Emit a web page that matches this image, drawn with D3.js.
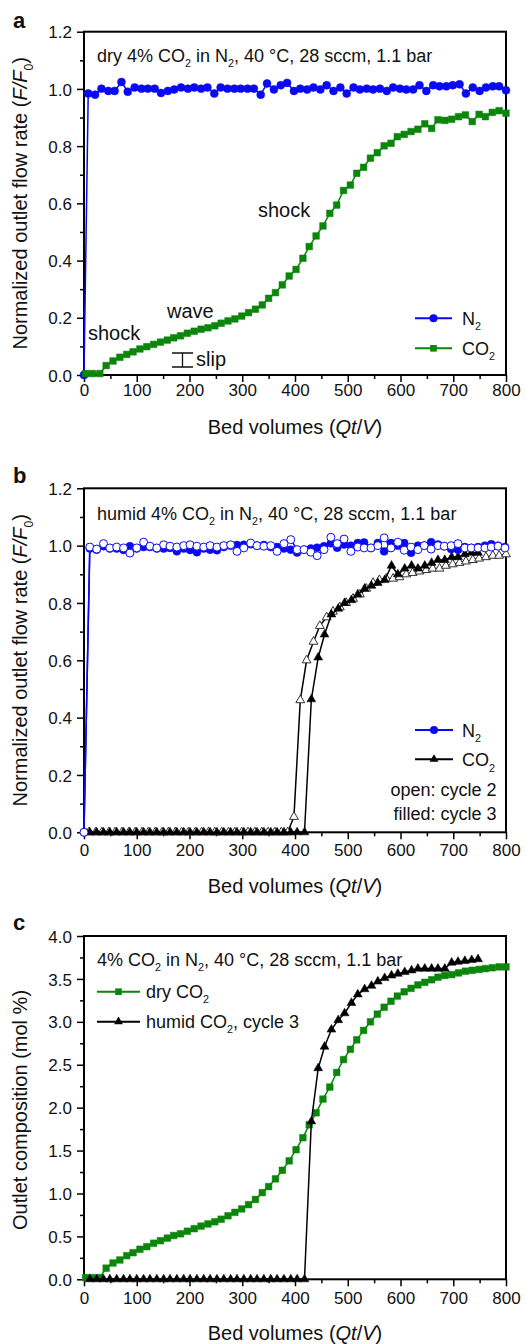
<!DOCTYPE html>
<html>
<head>
<meta charset="utf-8">
<script src="https://cdnjs.cloudflare.com/ajax/libs/d3/7.8.5/d3.min.js"></script>
<style>
  body { margin: 0; background: #fff; }
  svg { display: block; font-family: "Liberation Sans", Arial, Helvetica, sans-serif; }
</style>
</head>
<body>
<script>
// ---- axis ticks
var xTicks = [0, 100, 200, 300, 400, 500, 600, 700, 800];
var xMinor = [50, 150, 250, 350, 450, 550, 650, 750];
var flowTicks = [0, 0.2, 0.4, 0.6, 0.8, 1.0, 1.2];
var flowMinor = [0.1, 0.3, 0.5, 0.7, 0.9, 1.1];
var compTicks = [0, 0.5, 1.0, 1.5, 2.0, 2.5, 3.0, 3.5, 4.0];
var compMinor = [0.25, 0.75, 1.25, 1.75, 2.25, 2.75, 3.25, 3.75];

// ---- panel a: dry feed
var bvN2a = [0, 8, 21, 33, 46, 58, 71, 83, 96, 109, 121, 134, 146, 159, 171, 184, 197, 209, 222, 234, 247,
  259, 272, 285, 297, 310, 322, 335, 347, 360, 373, 385, 398, 410, 423, 435, 448, 460, 473, 486, 498,
  511, 523, 536, 548, 561, 574, 586, 599, 611, 624, 636, 649, 662, 674, 687, 699, 712, 724, 737, 750,
  762, 775, 787, 800];
var n2a = [0, 0.984, 0.980, 1.001, 0.993, 0.993, 1.024, 0.990, 1.005, 1.001, 1.001,
  1.001, 0.986, 0.993, 0.998, 1.005, 1.001, 1.005, 1.001, 1.005, 0.984,
  1.005, 1.001, 1.001, 1.001, 1.001, 1.001, 0.980, 1.019, 0.998, 1.013,
  1.021, 0.993, 1.001, 0.998, 1.005, 0.998, 1.013, 0.993, 1.005, 0.984,
  1.005, 0.998, 1.001, 0.998, 1.001, 0.993, 1.005, 1.001, 0.998, 0.998,
  1.013, 0.993, 1.013, 1.009, 1.009, 1.013, 1.016, 0.984, 1.005, 0.993,
  1.005, 1.009, 1.009, 0.995];
var bvCO2a = [3, 16, 30, 42, 55, 68, 81, 93, 106, 119, 132, 145, 158, 170, 183, 196, 209, 222, 235, 248,
  260, 273, 286, 299, 312, 325, 338, 350, 363, 376, 389, 402, 415, 427, 440, 453, 466, 479, 492, 505,
  517, 530, 543, 556, 569, 582, 594, 607, 620, 633, 646, 659, 671, 684, 697, 710, 723, 736, 749, 761,
  774, 787, 800];
var co2a = [0.005, 0.005, 0.005,
  0.033, 0.049, 0.062, 0.072, 0.081, 0.091, 0.099, 0.107, 0.115, 0.122,
  0.130, 0.137, 0.146, 0.153, 0.160, 0.165, 0.172, 0.181, 0.189, 0.196,
  0.206, 0.218, 0.230, 0.245, 0.268, 0.288, 0.315, 0.346, 0.369, 0.408,
  0.449, 0.486, 0.521, 0.565, 0.594, 0.645, 0.664, 0.705, 0.726, 0.758,
  0.777, 0.801, 0.810, 0.833, 0.841, 0.851, 0.859, 0.878, 0.862, 0.892,
  0.890, 0.894, 0.903, 0.909, 0.886, 0.911, 0.903, 0.918, 0.924, 0.915];

// ---- panel b: humid feed, cycles 2 (open) and 3 (filled)
var bvN2b = [0, 11, 24, 37, 49, 62, 75, 87, 100, 113, 125, 138, 151, 163, 176, 189, 201, 214, 227, 239, 252,
  265, 278, 290, 303, 316, 328, 341, 354, 366, 379, 392, 404, 417, 430, 442, 455, 468, 480, 493, 506,
  519, 531, 544, 557, 569, 582, 595, 607, 620, 633, 645, 658, 671, 683, 696, 709, 722, 734, 747, 760,
  772, 785, 798];
var n2bOpen = [0, 0.995, 0.988, 1.007, 0.992, 0.995, 0.992, 0.974, 0.992, 1.012, 0.998,
  0.992, 1.003, 0.998, 0.995, 1.000, 1.003, 0.998, 0.995, 1.000, 0.995,
  1.000, 1.003, 0.980, 0.992, 1.009, 1.000, 0.998, 1.000, 0.980, 1.007,
  1.021, 0.986, 0.986, 0.977, 0.965, 0.986, 1.029, 1.007, 1.023, 0.980,
  0.995, 0.992, 0.992, 1.000, 1.027, 0.992, 1.012, 0.984, 0.995, 0.986,
  1.000, 0.988, 1.000, 0.998, 1.000, 1.007, 0.992, 0.992, 0.992, 0.992,
  0.995, 0.998, 0.992];
var n2bFilled = [0, 0.990, 0.986, 0.998, 0.990, 0.990, 0.985, 0.998, 0.990, 0.995, 0.995,
  0.990, 0.990, 0.992, 0.980, 0.990, 0.985, 0.977, 0.990, 0.986, 0.984,
  0.995, 1.000, 1.002, 1.003, 1.005, 1.000, 1.002, 0.995, 0.995, 0.990,
  0.986, 0.976, 0.986, 0.990, 0.993, 0.998, 1.008, 0.993, 1.004, 1.000,
  1.009, 1.011, 0.992, 1.009, 0.980, 1.009, 1.000, 1.009, 0.975, 1.000,
  1.000, 1.012, 1.004, 0.998, 0.988, 0.986, 0.995, 0.992, 0.995, 1.000,
  1.005, 1.000, 0.995];
var bvCO2bOpen = [9, 22, 34, 47, 59, 72, 85, 97, 110, 122, 135, 148, 160, 173, 185, 198, 211, 223, 236, 248,
  261, 274, 286, 299, 311, 324, 337, 349, 362, 374, 386, 398, 410, 422, 435, 447, 460, 472, 485, 497,
  510, 523, 535, 548, 560, 573, 586, 598, 611, 623, 636, 649, 661, 674, 686, 699, 712, 724, 737, 749,
  762, 775, 787, 800];
var co2bOpen = [0, 0, 0, 0, 0, 0, 0, 0, 0, 0, 0, 0, 0, 0, 0, 0, 0, 0, 0, 0,
  0, 0, 0, 0, 0, 0, 0, 0, 0, 0, 0,
  0.054, 0.461, 0.600, 0.665, 0.720, 0.750, 0.770, 0.785, 0.800, 0.815,
  0.830, 0.850, 0.870, 0.880, 0.885, 0.885, 0.890, 0.900, 0.905, 0.910,
  0.915, 0.920, 0.920, 0.930, 0.935, 0.940, 0.945, 0.950, 0.955, 0.960,
  0.965, 0.965, 0.970];
var bvCO2bFilled = [11, 24, 37, 49, 62, 75, 87, 100, 113, 125, 138, 151, 163, 176, 189, 201, 214, 227, 239, 252,
  265, 278, 290, 303, 316, 328, 341, 354, 366, 379, 392, 404, 418, 431, 444, 456, 469, 482, 494, 507,
  519, 532, 545, 557, 570, 583, 595, 608, 621, 633, 646, 659, 671, 684, 697, 709, 722, 735, 747];
var co2bFilled = [0, 0, 0, 0, 0, 0, 0, 0, 0, 0, 0, 0, 0, 0, 0, 0, 0, 0, 0, 0,
  0, 0, 0, 0, 0, 0, 0, 0, 0, 0, 0, 0, 0,
  0.464, 0.610, 0.690, 0.760, 0.780, 0.800, 0.810, 0.830, 0.850, 0.860,
  0.870, 0.880, 0.930, 0.900, 0.920, 0.930, 0.920, 0.930, 0.940, 0.950,
  0.950, 0.960, 0.960, 0.970, 0.975, 0.975];

// ---- panel c: outlet composition (mol %)
var bvDryC = [3, 16, 30, 42, 55, 68, 81, 93, 106, 119, 132, 145, 158, 170, 183, 196, 209, 222, 235, 248,
  260, 273, 286, 299, 312, 325, 338, 350, 363, 376, 389, 402, 415, 427, 440, 453, 466, 479, 492, 505,
  517, 530, 543, 556, 569, 582, 594, 607, 620, 633, 646, 659, 671, 684, 697, 710, 723, 736, 749, 761,
  774, 787, 800];
var dryC = [0.02, 0.02, 0.02,
  0.13, 0.19, 0.225, 0.275, 0.31, 0.35, 0.38, 0.42, 0.45, 0.48,
  0.51, 0.53, 0.56, 0.59, 0.62, 0.645, 0.67, 0.70, 0.74, 0.78,
  0.82, 0.87, 0.93, 1.01, 1.08, 1.17, 1.27, 1.38, 1.51, 1.65,
  1.80, 1.94, 2.10, 2.24, 2.41, 2.56, 2.68, 2.79, 2.90, 3.00,
  3.09, 3.17, 3.24, 3.30, 3.35, 3.39, 3.43, 3.46, 3.49, 3.52,
  3.54, 3.55, 3.57, 3.59, 3.60, 3.61, 3.62, 3.63, 3.64, 3.64];
var bvHumidC = [11, 24, 37, 49, 62, 75, 87, 100, 113, 125, 138, 151, 163, 176, 189, 201, 214, 227, 239, 252,
  265, 278, 290, 303, 316, 328, 341, 354, 366, 379, 392, 404, 418, 431, 444, 456, 469, 482, 494, 507,
  519, 532, 545, 557, 570, 583, 595, 608, 621, 633, 646, 659, 671, 684, 697, 709, 722, 735, 747];
var humidC = [0, 0, 0, 0, 0, 0, 0, 0, 0, 0, 0, 0, 0, 0, 0, 0, 0, 0, 0, 0,
  0, 0, 0, 0, 0, 0, 0, 0, 0, 0, 0, 0, 0,
  1.84, 2.46, 2.71, 2.91, 3.02, 3.10, 3.22, 3.32, 3.38, 3.42,
  3.47, 3.51, 3.54, 3.56, 3.58, 3.60, 3.62, 3.62, 3.62, 3.62,
  3.62, 3.69, 3.70, 3.71, 3.72, 3.73];

var BLUE = "#0a0af2", GREEN = "#0b850b", BLACK = "#000";
var FS_TICK = 17, FS_TITLE = 20, FS_NOTE = 18, FS_WORD = 20;
var X0 = 84, X1 = 506;

var svg = d3.select("body").append("svg")
  .attr("width", 526)
  .attr("height", 1344);

var x = d3.scaleLinear().domain([0, 800]).range([X0, X1]);

// text with subscripts / italics: parts = [[text, style], ...]
function richText(sel, px, py, parts, opts) {
  opts = opts || {};
  var size = opts.size || FS_NOTE;
  var t = sel.append("text")
    .attr("x", px)
    .attr("y", py)
    .attr("font-size", size)
    .attr("fill", "#111");
  if (opts.anchor) t.attr("text-anchor", opts.anchor);
  if (opts.rotate) t.attr("transform", "rotate(-90," + px + "," + py + ")");
  var shift = 0, drop = size * 0.32;
  parts.forEach(function(p) {
    var s = t.append("tspan").text(p[0]);
    var dy;
    if (p[1] === "sub") {
      dy = drop - shift; shift = drop;
      s.attr("font-size", size * 0.6);
    } else {
      dy = -shift; shift = 0;
    }
    if (dy) s.attr("dy", dy);
    if (p[1] === "i") s.attr("font-style", "italic");
  });
  return t;
}

function panel(o) {
  var y = d3.scaleLinear().domain([0, o.ymax]).range([o.bottom, o.top]);
  var g = svg.append("g");

  var yAx = g.append("g").attr("transform", "translate(" + X0 + ",0)")
    .call(d3.axisLeft(y).tickValues(o.yTicks).tickSize(7).tickPadding(5).tickFormat(d3.format(".1f")));
  var yMin = g.append("g").attr("transform", "translate(" + X0 + ",0)")
    .call(d3.axisLeft(y).tickValues(o.yMinor).tickSize(4).tickFormat(function() { return ""; }));
  var xAx = g.append("g").attr("transform", "translate(0," + o.bottom + ")")
    .call(d3.axisBottom(x).tickValues(xTicks).tickSize(7).tickFormat(d3.format("d")));
  var xMin = g.append("g").attr("transform", "translate(0," + o.bottom + ")")
    .call(d3.axisBottom(x).tickValues(xMinor).tickSize(4).tickFormat(function() { return ""; }));

  [yAx, yMin, xAx, xMin].forEach(function(a) {
    a.select(".domain").remove();
    a.selectAll("line").attr("stroke", "#000").attr("stroke-width", 1.5);
    a.selectAll("text").attr("font-size", FS_TICK).attr("fill", "#111")
      .attr("font-family", "'Liberation Sans', Arial, sans-serif");
  });
  yAx.selectAll("text").attr("dy", "0.36em");
  xAx.selectAll("text").attr("dy", null).attr("y", o.xLabelDy);

  g.append("rect")
    .attr("x", X0).attr("y", o.top)
    .attr("width", X1 - X0).attr("height", o.bottom - o.top)
    .attr("fill", "none").attr("stroke", "#000").attr("stroke-width", 2);

  richText(g, (X0 + X1) / 2, o.bottom + o.titleDy,
    [["Bed volumes ("], ["Qt", "i"], ["/"], ["V", "i"], [")"]], { anchor: "middle", size: FS_TITLE });

  g.append("text")
    .attr("x", 13).attr("y", o.letterY)
    .attr("font-size", 22).attr("font-weight", "bold").attr("fill", "#111")
    .text(o.letter);

  return { g: g, y: y };
}

function series(p, xs, ys, s) {
  var pts = xs.map(function(d, i) { return [x(d), p.y(ys[i])]; });
  var plot = p.g.append("g");
  plot.append("path")
    .attr("d", d3.line()(pts))
    .attr("fill", "none")
    .attr("stroke", s.color)
    .attr("stroke-width", s.lw || 1.5);
  var sym = d3.symbol().type(s.type).size(s.size);
  plot.selectAll("path.m").data(pts).enter().append("path")
    .attr("class", "m")
    .attr("d", sym)
    .attr("transform", function(d) { return "translate(" + d[0] + "," + d[1] + ")"; })
    .attr("fill", s.open ? "#fff" : s.color)
    .attr("stroke", s.stroke || s.color)
    .attr("stroke-width", s.open ? 1 : 0.5);
}

function legendItem(g, x1, x2, yy, color, type, size) {
  g.append("line").attr("x1", x1).attr("x2", x2).attr("y1", yy).attr("y2", yy)
    .attr("stroke", color).attr("stroke-width", 2);
  g.append("path").attr("d", d3.symbol().type(type).size(size))
    .attr("transform", "translate(" + ((x1 + x2) / 2) + "," + yy + ")")
    .attr("fill", color);
}

function word(g, px, py, txt) {
  g.append("text").attr("x", px).attr("y", py)
    .attr("font-size", FS_WORD).attr("fill", "#111").text(txt);
}

var circ = d3.symbolCircle, sq = d3.symbolSquare, tri = d3.symbolTriangle;
var CIRC = 50, SQ = 44, TRI = 34;

// ---------- panel a
var pa = panel({ top: 31.7, bottom: 375, ymax: 1.2, yTicks: flowTicks, yMinor: flowMinor,
  xLabelDy: 21, titleDy: 59, letter: "a", letterY: 28 });
series(pa, bvN2a, n2a, { color: BLUE, type: circ, size: CIRC });
series(pa, bvCO2a, co2a, { color: GREEN, type: sq, size: SQ });
richText(pa.g, 27, (31.7 + 375) / 2,
  [["Normalized outlet flow rate ("], ["F/F", "i"], ["0", "sub"], [")"]],
  { anchor: "middle", rotate: true, size: FS_TITLE });
richText(pa.g, 97, 61.7,
  [["dry 4% CO"], ["2", "sub"], [" in N"], ["2", "sub"], [", 40 °C, 28 sccm, 1.1 bar"]]);
legendItem(pa.g, 415, 452, 318.3, BLUE, circ, CIRC);
legendItem(pa.g, 415, 452, 348.3, GREEN, sq, SQ);
richText(pa.g, 462, 324.5, [["N"], ["2", "sub"]]);
richText(pa.g, 462, 354.5, [["CO"], ["2", "sub"]]);
word(pa.g, 88, 340, "shock");
word(pa.g, 167, 317.5, "wave");
word(pa.g, 258, 216.5, "shock");
word(pa.g, 196, 365.5, "slip");
pa.g.append("path")
  .attr("d", "M172,353H193M182.5,353V367M172,367H193")
  .attr("fill", "none").attr("stroke", "#111").attr("stroke-width", 1.3);

// ---------- panel b
var pb = panel({ top: 488.3, bottom: 832.3, ymax: 1.2, yTicks: flowTicks, yMinor: flowMinor,
  xLabelDy: 24, titleDy: 60.5, letter: "b", letterY: 482.7 });
series(pb, bvCO2bOpen, co2bOpen, { color: BLACK, type: tri, size: TRI, open: true, stroke: "#333" });
series(pb, bvCO2bFilled, co2bFilled, { color: BLACK, type: tri, size: TRI });
series(pb, bvN2b, n2bFilled, { color: BLUE, type: circ, size: CIRC });
series(pb, bvN2b, n2bOpen, { color: BLUE, type: circ, size: CIRC, open: true });
richText(pb.g, 27, (488.3 + 832.3) / 2,
  [["Normalized outlet flow rate ("], ["F/F", "i"], ["0", "sub"], [")"]],
  { anchor: "middle", rotate: true, size: FS_TITLE });
richText(pb.g, 97, 519.5,
  [["humid 4% CO"], ["2", "sub"], [" in N"], ["2", "sub"], [", 40 °C, 28 sccm, 1.1 bar"]]);
legendItem(pb.g, 415, 453, 730, BLUE, circ, CIRC);
legendItem(pb.g, 415, 453, 759.3, BLACK, tri, TRI);
richText(pb.g, 462, 736.5, [["N"], ["2", "sub"]]);
richText(pb.g, 462, 766, [["CO"], ["2", "sub"]]);
pb.g.append("text").attr("x", 496.5).attr("y", 795.5).attr("text-anchor", "end")
  .attr("font-size", FS_NOTE).attr("fill", "#111").text("open: cycle 2");
pb.g.append("text").attr("x", 496.5).attr("y", 820).attr("text-anchor", "end")
  .attr("font-size", FS_NOTE).attr("fill", "#111").text("filled: cycle 3");

// ---------- panel c
var pc = panel({ top: 936, bottom: 1279.3, ymax: 4.0, yTicks: compTicks, yMinor: compMinor,
  xLabelDy: 25, titleDy: 61, letter: "c", letterY: 930 });
series(pc, bvDryC, dryC, { color: GREEN, type: sq, size: SQ });
series(pc, bvHumidC, humidC, { color: BLACK, type: tri, size: TRI });
richText(pc.g, 27, 1110, [["Outlet composition (mol %)"]],
  { anchor: "middle", rotate: true, size: FS_TITLE });
richText(pc.g, 97, 965.5,
  [["4% CO"], ["2", "sub"], [" in N"], ["2", "sub"], [", 40 °C, 28 sccm, 1.1 bar"]]);
legendItem(pc.g, 97, 140, 991.7, GREEN, sq, SQ);
legendItem(pc.g, 97, 140, 1021.7, BLACK, tri, TRI);
richText(pc.g, 146, 997.5, [["dry CO"], ["2", "sub"]]);
richText(pc.g, 146, 1027.5, [["humid CO"], ["2", "sub"], [", cycle 3"]]);
</script>
</body>
</html>
